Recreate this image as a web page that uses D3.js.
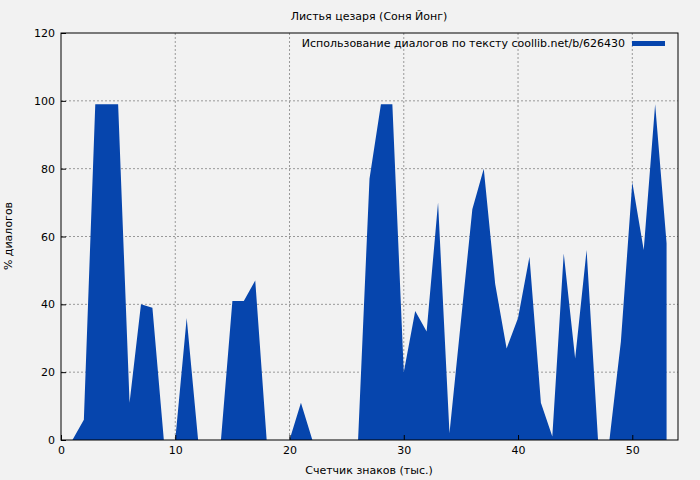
<!DOCTYPE html>
<html><head><meta charset="utf-8">
<script src="https://cdn.jsdelivr.net/npm/d3@7"></script>
<style>body{margin:0;background:#f2f2f2;font-family:"DejaVu Sans",sans-serif;}</style>
</head><body>
<script>
const xs = d3.range(1, 54);
const vals = [0, 6, 99, 99, 99, 11, 40, 39, 0, 0, 36, 0, 0, 0, 41, 41, 47, 0, 0, 0, 11, 0, 0, 0, 0, 0,
  77, 99, 99, 20, 38, 32, 70, 2, 35, 68, 80, 46, 27, 36, 54, 11, 1, 55, 24, 56, 0, 0, 29, 76, 56, 99, 58];
const yTicks = [0, 20, 40, 60, 80, 100, 120];
const xTicks = [0, 10, 20, 30, 40, 50];

const W = 700, H = 480, m = {l: 61, r: 22, t: 33, b: 40};
const svg = d3.select("body").append("svg").attr("width", W).attr("height", H)
  .style("font-family", "DejaVu Sans, sans-serif").style("font-size", "11px");
svg.append("rect").attr("width", W).attr("height", H).attr("fill", "#f2f2f2");

const x = d3.scaleLinear().domain([0, 54]).range([m.l, W - m.r]);
const y = d3.scaleLinear().domain([0, 120]).range([H - m.b, m.t]);

// grid
svg.append("g").selectAll("line").data(yTicks.slice(1, -1)).join("line")
  .attr("x1", m.l).attr("x2", W - m.r).attr("y1", y).attr("y2", y)
  .attr("stroke", "#999").attr("stroke-dasharray", "2,2");
svg.append("g").selectAll("line").data(xTicks.slice(1)).join("line")
  .attr("y1", m.t).attr("y2", H - m.b).attr("x1", x).attr("x2", x)
  .attr("stroke", "#999").attr("stroke-dasharray", "2,2");

const data = xs.map((d, i) => [d, vals[i]]);
svg.append("path").datum(data)
  .attr("fill", "#0645ad")
  .attr("d", d3.area().x(d => x(d[0])).y0(y(0)).y1(d => y(d[1])));

// frame
svg.append("rect").attr("x", m.l).attr("y", m.t).attr("width", W - m.r - m.l).attr("height", H - m.t - m.b)
  .attr("fill", "none").attr("stroke", "#000");

svg.append("g").attr("transform", `translate(0,${H - m.b})`)
  .call(d3.axisBottom(x).tickValues(xTicks).tickSize(-5).tickPadding(6))
  .call(g => g.select(".domain").remove())
  .call(g => g.selectAll("text").style("font-size", "11px").style("font-family", "DejaVu Sans"));
svg.append("g").attr("transform", `translate(${m.l},0)`)
  .call(d3.axisLeft(y).tickValues(yTicks).tickSize(-5).tickPadding(6))
  .call(g => g.select(".domain").remove())
  .call(g => g.selectAll("text").style("font-size", "11px").style("font-family", "DejaVu Sans"));

svg.append("text").attr("x", 369).attr("y", 20).attr("text-anchor", "middle").text("Листья цезаря (Соня Йонг)");
svg.append("text").attr("x", 369).attr("y", 474).attr("text-anchor", "middle").text("Счетчик знаков (тыс.)");
svg.append("text").attr("transform", "translate(12,236) rotate(-90)").attr("text-anchor", "middle").text("% диалогов");

svg.append("text").attr("x", 625).attr("y", 47).attr("text-anchor", "end")
  .text("Использование диалогов по тексту coollib.net/b/626430");
svg.append("rect").attr("x", 632).attr("y", 41).attr("width", 33).attr("height", 5).attr("fill", "#0645ad");
</script>
</body></html>
